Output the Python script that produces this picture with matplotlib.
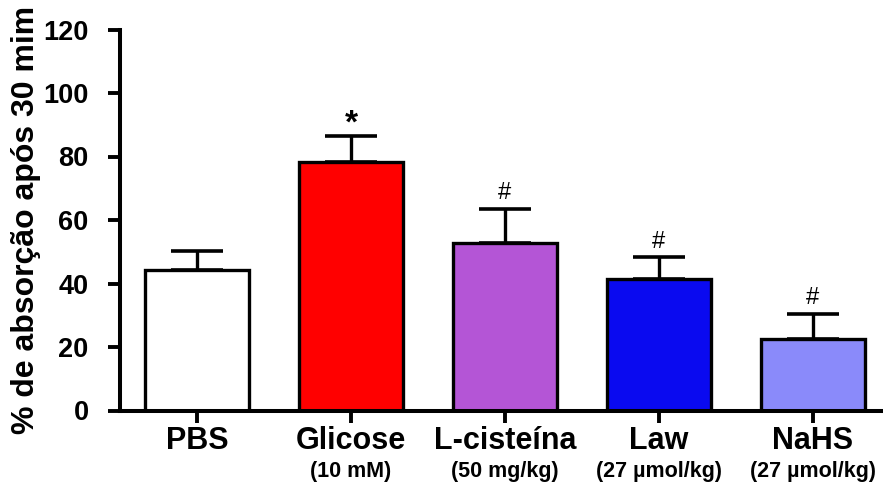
import numpy as np
import matplotlib
matplotlib.use('Agg')
import matplotlib.pyplot as plt

plt.rcParams['font.family'] = ['Liberation Sans', 'DejaVu Sans']

categories = ['PBS', 'Glicose', 'L-cisteína', 'Law', 'NaHS']
doses = ['', '(10 mM)', '(50 mg/kg)', '(27 µmol/kg)', '(27 µmol/kg)']
means = [44.3, 78.4, 52.7, 41.3, 22.4]
sem = [6.0, 8.2, 10.8, 7.0, 8.0]
marks = ['', '*', '#', '#', '#']
colors = ['#FFFFFF', '#FF0000', '#B455D6', '#0A0AF0', '#8A8AFA']

fig = plt.figure(figsize=(8.83, 4.87), dpi=100)
ax = fig.add_axes([120 / 883, 76.5 / 487, 1 - 120 / 883, 381 / 487])

x = np.arange(len(categories))
ax.bar(x, means, width=0.67, color=colors, edgecolor='black', linewidth=2.4,
       yerr=[np.zeros(len(sem)), sem], capsize=18.5,
       error_kw=dict(elinewidth=2.4, capthick=2.6, ecolor='black', zorder=1))

for xi, m, s, mk in zip(x, means, sem, marks):
    if mk == '*':
        ax.text(xi, m + s + 0.8, mk, ha='center', va='baseline', fontsize=24, fontweight='bold')
    elif mk:
        ax.text(xi, m + s + 3.0, mk, ha='center', va='baseline', fontsize=17)

ax.set_xlim(-0.5, 4.455)
ax.set_ylim(0, 120)
ax.set_yticks(range(0, 121, 20))
ax.set_xticks(x)
ax.set_xticklabels(categories, fontsize=22, fontweight='bold')
ax.tick_params(axis='y', labelsize=19.5, width=2.8, length=8.5, pad=14)
ax.tick_params(axis='x', width=2.8, length=8.5, pad=3)
for lbl in ax.get_yticklabels():
    lbl.set_fontweight('bold')

for xi, d in zip(x, doses):
    if d:
        ax.text(xi, -0.159, d, transform=ax.get_xaxis_transform(), ha='center', va='center',
                fontsize=15.5, fontweight='bold')

ax.spines['top'].set_visible(False)
ax.spines['right'].set_visible(False)
ax.spines['left'].set_linewidth(2.9)
ax.spines['bottom'].set_linewidth(2.9)

ax.set_ylabel('% de absorção após 30 mim', fontsize=23, fontweight='bold', labelpad=2)

fig.savefig('out.png', dpi=100)
